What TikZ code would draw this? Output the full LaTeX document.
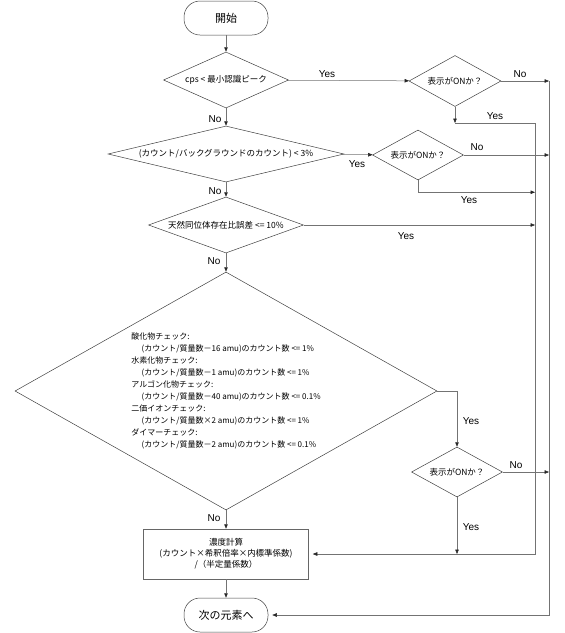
\documentclass[tikz,border=0pt]{standalone}
\usepackage{fontspec}
\setmainfont{Noto Sans CJK JP}
\newfontfamily\latinfont{Liberation Sans}
\usetikzlibrary{arrows.meta,shapes.geometric,calc}

\begin{document}
\begin{tikzpicture}[x=1pt,y=-1pt,line width=.5pt,
 decision/.style={diamond,draw=black!75,inner sep=0pt,font=\fontsize{8.5}{10}\selectfont},
 terminal/.style={draw=black!75,rounded corners=16pt,minimum width=84pt,minimum height=34pt,font=\fontsize{11}{13}\selectfont},
 process/.style={draw=black!60,align=center,minimum width=165pt,minimum height=50pt,font=\fontsize{8.5}{11}\selectfont},
 conn/.style={draw=black!55},
 arr/.style={conn,-{Triangle[length=4.5pt,width=3.5pt,color=black!85]}},
 answer/.style={font=\latinfont\fontsize{10}{12}\selectfont}]
\useasboundingbox (0,0) rectangle (565,633);

% main column
\node[terminal] (start) at (226,18) {開始};
\node[decision,minimum width=125pt,minimum height=56pt,aspect=2.2] (d1) at (226,80) {cps < 最小認識ピーク};
\node[decision,minimum width=236pt,minimum height=56pt,aspect=4.2] (d3) at (226,154) {(カウント/バックグラウンドのカウント) < 3\%};
\node[decision,minimum width=155pt,minimum height=56pt,aspect=2.8] (d5) at (226,225) {天然同位体存在比誤差 <= 10\%};
\node[decision,align=left,minimum width=422pt,minimum height=238pt,aspect=1.77,font=\fontsize{8}{12}\selectfont] (d6) at (226,391)
 {酸化物チェック:\\\hspace*{1.3em}(カウント/質量数－16 amu)のカウント数 <= 1\%\\
  水素化物チェック:\\\hspace*{1.3em}(カウント/質量数－1 amu)のカウント数 <= 1\%\\
  アルゴン化物チェック:\\\hspace*{1.3em}(カウント/質量数－40 amu)のカウント数 <= 0.1\%\\
  二価イオンチェック:\\\hspace*{1.3em}(カウント/質量数×2 amu)のカウント数 <= 1\%\\
  ダイマーチェック:\\\hspace*{1.3em}(カウント/質量数－2 amu)のカウント数 <= 0.1\%};
\node[process] (calc) at (226,554) {濃度計算\\(カウント×希釈倍率×内標準係数)\\/（半定量係数）};
\node[terminal] (finish) at (226,615) {次の元素へ};

% display checks
\node[decision,minimum width=92pt,minimum height=51pt,aspect=1.8] (d2) at (455,81) {表示がONか？};
\node[decision,minimum width=91pt,minimum height=50pt,aspect=1.8] (d4) at (418,155) {表示がONか？};
\node[decision,minimum width=91pt,minimum height=50pt,aspect=1.8] (d7) at (457,472) {表示がONか？};

\coordinate (noR) at (549,81);
\coordinate (yesR) at (535,123);
\coordinate (j1) at (455,123);

% connectors
\draw[arr] (start) -- (d1);
\draw[arr] (d1) -- (d3);
\draw[arr] (d3) -- (d5);
\draw[arr] (d5) -- (d6);
\draw[arr] (d6) -- (calc);
\draw[arr] (calc) -- (finish);
\draw[arr] (d1) -- (d2);
\draw[arr] (d3) -- (d4);
\draw[arr] (d6.east) -| (d7);
\foreach \d in {d2,d4,d7}{\draw[arr] (\d.east) -- (\d.east -| noR);}
\draw[arr] (d2) -- (j1);
\draw[arr,shorten >=4pt] (j1) -| (yesR |- calc) -- (calc);
\draw[arr] (d4.south) |- ([yshift=-12pt]d4.south -| yesR);
\draw[arr] (d5.east) -- (d5.east -| yesR);
\draw[arr] (d7) -- (d7 |- calc);
\draw[arr,shorten >=4pt] (noR) |- (finish);

% branch labels
\foreach \name/\pos/\txt in {a1/{327,74}/Yes,a2/{520,74}/No,a3/{215,119}/No,a4/{495,116}/Yes,
 a5/{357,164}/Yes,a6/{477,147}/No,a7/{469,200}/Yes,a8/{215,191}/No,a9/{406,236}/Yes,
 a10/{214,261}/No,a11/{471,421}/Yes,a12/{516,465}/No,a13/{471,527}/Yes,a14/{214,518}/No}
 \node[answer] (\name) at (\pos) {\txt};
\end{tikzpicture}
\end{document}
